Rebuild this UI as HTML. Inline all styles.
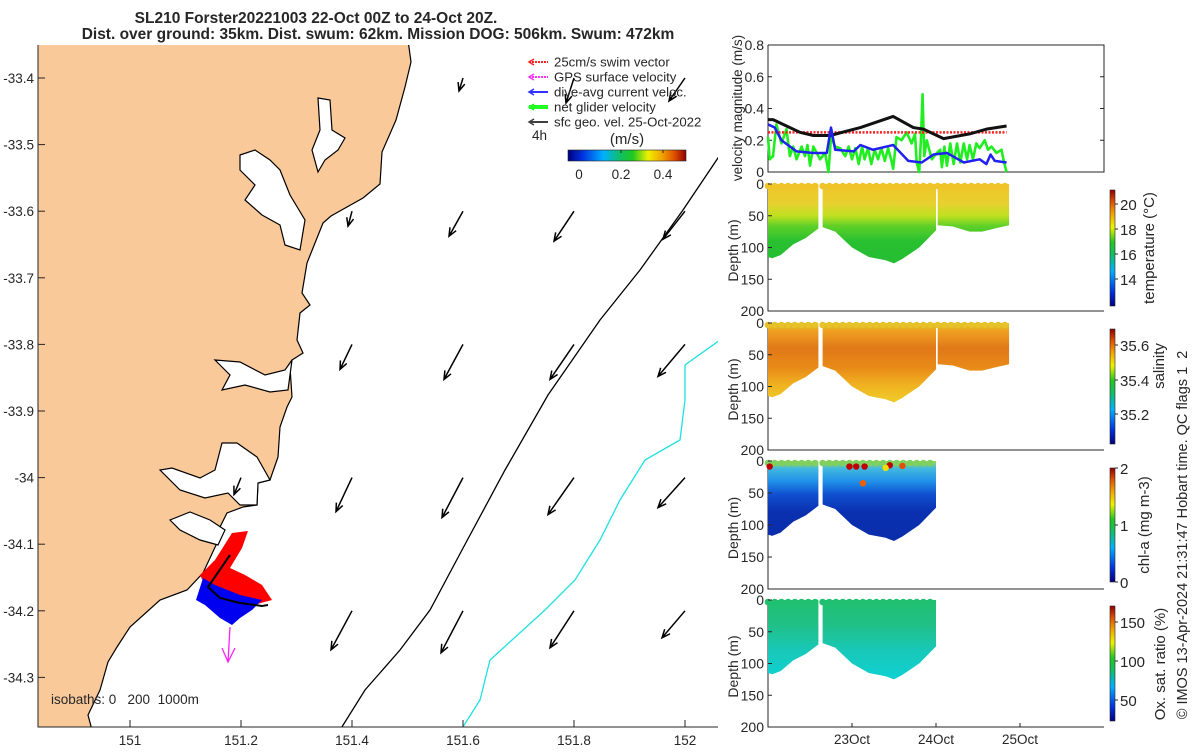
<!DOCTYPE html>
<html><head><meta charset="utf-8"><style>
html,body{margin:0;padding:0;background:#fff;}
svg text{font-family:"Liberation Sans","DejaVu Sans",sans-serif;fill:#262626;}
.pre{white-space:pre;}
</style></head><body>
<svg id="fig" width="1200" height="750" viewBox="0 0 1200 750" xmlns="http://www.w3.org/2000/svg">
<defs>
<linearGradient id="jet" x1="0" y1="1" x2="0" y2="0">
<stop offset="0" stop-color="#00007f"/><stop offset="0.12" stop-color="#0030e0"/><stop offset="0.3" stop-color="#00b0ff"/><stop offset="0.45" stop-color="#10c060"/><stop offset="0.55" stop-color="#20c820"/><stop offset="0.68" stop-color="#f0f000"/><stop offset="0.8" stop-color="#f0a000"/><stop offset="0.9" stop-color="#e05000"/><stop offset="1" stop-color="#900000"/></linearGradient>
<linearGradient id="jeth" x1="0" y1="0" x2="1" y2="0">
<stop offset="0" stop-color="#00007f"/><stop offset="0.12" stop-color="#0030e0"/><stop offset="0.3" stop-color="#00b0ff"/><stop offset="0.45" stop-color="#10c060"/><stop offset="0.55" stop-color="#20c820"/><stop offset="0.68" stop-color="#f0f000"/><stop offset="0.8" stop-color="#f0a000"/><stop offset="0.9" stop-color="#e05000"/><stop offset="1" stop-color="#900000"/></linearGradient>
<linearGradient id="gTemp" gradientUnits="userSpaceOnUse" x1="0" y1="184" x2="0" y2="311">
<stop offset="0" stop-color="#f0c428"/><stop offset="0.15" stop-color="#e8d030"/><stop offset="0.25" stop-color="#c0e020"/><stop offset="0.33" stop-color="#60d028"/><stop offset="0.45" stop-color="#28c030"/><stop offset="1" stop-color="#20b838"/></linearGradient>
<linearGradient id="gSal" gradientUnits="userSpaceOnUse" x1="0" y1="323" x2="0" y2="450">
<stop offset="0" stop-color="#d0d030"/><stop offset="0.06" stop-color="#f0a020"/><stop offset="0.2" stop-color="#e07818"/><stop offset="0.35" stop-color="#e88a18"/><stop offset="0.48" stop-color="#f0b020"/><stop offset="0.6" stop-color="#f0c828"/><stop offset="1" stop-color="#e8e020"/></linearGradient>
<linearGradient id="gChl" gradientUnits="userSpaceOnUse" x1="0" y1="461" x2="0" y2="589">
<stop offset="0" stop-color="#a0d840"/><stop offset="0.06" stop-color="#40b8e0"/><stop offset="0.16" stop-color="#2090e8"/><stop offset="0.26" stop-color="#1050d0"/><stop offset="0.4" stop-color="#0a30b0"/><stop offset="1" stop-color="#0a2aa0"/></linearGradient>
<linearGradient id="gOxy" gradientUnits="userSpaceOnUse" x1="0" y1="600" x2="0" y2="727">
<stop offset="0" stop-color="#20c070"/><stop offset="0.2" stop-color="#20c088"/><stop offset="0.4" stop-color="#18c8b8"/><stop offset="0.6" stop-color="#10d0d0"/><stop offset="1" stop-color="#10d0d8"/></linearGradient>
</defs>
<g id="map"></g>
<g id="right"></g>
</svg>
<script>
// ---- data ----
const mapLonTicks=[151,151.2,151.4,151.6,151.8,152];
const mapLatTicks=[-33.4,-33.5,-33.6,-33.7,-33.8,-33.9,-34,-34.1,-34.2,-34.3];
const arrowLon=[151.6,151.8,152, 151.4,151.6,151.8,152, 151.4,151.6,151.8,152, 151.4,151.6,151.8,152, 151.4,151.6,151.8,152, 151.2];
const arrowLat=[-33.4,-33.4,-33.4, -33.6,-33.6,-33.6,-33.6, -33.8,-33.8,-33.8,-33.8, -34,-34,-34,-34, -34.2,-34.2,-34.2,-34.2, -34.0];
const arrowU=[-0.04,-0.08,-0.16, -0.04,-0.14,-0.2,-0.22, -0.12,-0.19,-0.24,-0.27, -0.16,-0.21,-0.26,-0.27, -0.21,-0.22,-0.24,-0.23, -0.07];
const arrowV=[-0.13,-0.25,-0.23, -0.15,-0.25,-0.3,-0.28, -0.25,-0.35,-0.35,-0.32, -0.34,-0.4,-0.37,-0.3, -0.39,-0.42,-0.37,-0.27, -0.17];

const velTicks=[0,0.2,0.4,0.6,0.8];
const depthTicks=[0,50,100,150,200];
const dayTicks=[1,2,3];
const dayLabels=["23Oct","24Oct","25Oct"];
const blackT=[0,0.06,0.22,0.38,0.54,0.74,1.1,1.49,1.73,1.85,2.09,2.4,2.6,2.84];
const blackV=[0.33,0.33,0.29,0.25,0.23,0.23,0.28,0.35,0.28,0.27,0.21,0.24,0.27,0.29];
const redT=[0,2.84];
const redV=[0.25,0.25];
const blueT=[0,0.08,0.16,0.34,0.54,0.70,0.75,0.80,1.02,1.10,1.25,1.49,1.67,1.83,1.97,2.13,2.33,2.52,2.60,2.65,2.70,2.84];
const blueV=[0.30,0.28,0.2,0.13,0.12,0.12,0.28,0.14,0.13,0.17,0.14,0.17,0.07,0.06,0.11,0.12,0.06,0.08,0.05,0.11,0.07,0.06];
const greenT=[0,0.02,0.06,0.10,0.16,0.22,0.26,0.30,0.34,0.40,0.44,0.47,0.50,0.54,0.58,0.62,0.68,0.72,0.75,0.80,0.86,0.92,0.96,1.00,1.04,1.08,1.12,1.15,1.19,1.23,1.27,1.31,1.35,1.39,1.43,1.47,1.49,1.53,1.59,1.65,1.71,1.75,1.77,1.80,1.82,1.84,1.86,1.89,1.95,2.01,2.05,2.07,2.10,2.13,2.17,2.21,2.25,2.29,2.33,2.37,2.40,2.44,2.48,2.52,2.58,2.62,2.66,2.72,2.78,2.81,2.84];
const greenV=[0.22,0.08,0.1,0.3,0.18,0.27,0.1,0.16,0.08,0.16,0.1,0.17,0.04,0.16,0.12,0.08,0.12,0.0,0.22,0.16,0.15,0.1,0.16,0.08,0.15,0.05,0.16,0.08,0.15,0.05,0.14,0.08,0.15,0.07,0.15,0.07,0.02,0.22,0.2,0.25,0.18,0.24,0.06,0.0,0.2,0.49,0.1,0.2,0.08,0.12,0.14,0.03,0.16,0.04,0.18,0.05,0.18,0.06,0.18,0.08,0.17,0.08,0.18,0.15,0.2,0.14,0.16,0.12,0.14,0.06,0.0];
// section bottom depths (m) per segment
const seg1T=[0,0.05,0.15,0.3,0.45,0.6];
const seg1D=[115,117,112,95,85,70];
const seg2T=[0.65,0.8,1.0,1.2,1.4,1.5,1.6,1.8,2.0];
const seg2D=[68,75,100,115,120,125,118,100,73];
const seg3T=[2.02,2.2,2.4,2.55,2.7,2.87];
const seg3D=[65,67,75,75,70,65];
// ---- helpers ----
const NS="http://www.w3.org/2000/svg";
function mk(tag,attrs,parent){const e=document.createElementNS(NS,tag);for(const k in attrs)e.setAttribute(k,attrs[k]);parent.appendChild(e);return e;}
const map=document.getElementById('map'), right=document.getElementById('right'), fig=document.getElementById('fig');
const mx=lon=>130+(lon-151)*555, my=lat=>78+(-33.4-lat)*666;

// title
let t=mk('text',{x:316,y:23,'font-size':15.5,'font-weight':'bold','text-anchor':'middle'},fig);t.textContent='SL210 Forster20221003 22-Oct 00Z to 24-Oct 20Z.';

t=mk('text',{x:378,y:39,'font-size':15.5,'font-weight':'bold','text-anchor':'middle'},fig);t.textContent='Dist. over ground: 35km. Dist. swum: 62km. Mission DOG: 506km. Swum: 472km';


// ---- map ----
let cp=mk('clipPath',{id:'mapclip'},map);mk('rect',{x:38,y:45,width:680,height:682},cp);
const mg=mk('g',{'clip-path':'url(#mapclip)'},map);
let land=mk('polygon',{points:'30,40 408,40 411,62 405,87 396,120 382,152 380,184 363,198 331,216 323,223 307,263 302,293 310,305 300,313 297,340 303,353 292,360 290,367 292,397 287,407 280,427 278,457 270,480 258,483 257,505 243,507 227,513 220,527 217,543 203,573 187,590 160,600 130,627 117,647 108,662 100,690 88,715 92,730 30,730',fill:'#f9c99a',stroke:'#000','stroke-width':1.2},mg);

const inlets=['222,443 237,443 257,457 270,480 258,483 257,505 240,505 228,493 205,498 180,490 160,470 172,468 200,478 215,470',
'240,155 255,150 270,160 280,170 290,195 305,220 300,250 285,245 280,225 262,215 245,200 255,185 240,170',
'215,360 240,362 265,375 285,370 292,360 288,390 270,392 245,385 222,390 230,375',
'170,520 190,512 210,520 225,530 218,545 200,540 180,530',
'318,98 330,100 332,130 345,138 338,150 325,160 318,172 312,150 320,130'];
inlets.forEach((p,i)=>{const e=mk('polygon',{points:p,fill:'#fff',stroke:'#000','stroke-width':1.2},mg);});
// isobaths
let iso=mk('polyline',{points:'720,155 683,210 640,270 600,320 548,395 505,470 462,550 430,610 400,650 365,690 340,730',fill:'none',stroke:'#000','stroke-width':1.3},mg);

iso=mk('polyline',{points:'720,340 685,365 685,400 680,440 645,460 620,500 600,540 575,580 545,610 490,660 480,700 461,730',fill:'none',stroke:'#20e0e0','stroke-width':1.3},mg);

// glider track
let g=mk('polygon',{points:'232,533 248,531 242,548 236,558 230,568 245,575 262,585 272,600 250,606 225,598 212,590 205,585 200,575 215,560',fill:'#f00'},mg);

g=mk('polygon',{points:'203,578 215,585 240,595 262,600 252,610 240,618 232,625 220,618 205,605 196,600',fill:'#0000f0'},mg);

g=mk('polyline',{points:'230,555 208,587 220,598 240,603 262,606 268,605',fill:'none',stroke:'#000','stroke-width':2},mg);

g=mk('path',{d:'M230,627 L228,662 M222,648 L228,662 L235,648',fill:'none',stroke:'#ff20ff','stroke-width':1.3},mg);

// geostrophic arrows
for(let i=0;i<arrowLon.length;i++){
  const x0=mx(arrowLon[i]),y0=my(arrowLat[i]);const x1=x0+arrowU[i]*100,y1=y0-arrowV[i]*100;
  const a=Math.atan2(y1-y0,x1-x0),h=9;
  const p=`M${x0},${y0} L${x1},${y1} M${x1-h*Math.cos(a-0.4)},${y1-h*Math.sin(a-0.4)} L${x1},${y1} L${x1-h*Math.cos(a+0.4)},${y1-h*Math.sin(a+0.4)}`;
  const e=mk('path',{d:p,fill:'none',stroke:'#000','stroke-width':1.5},mg);
  
  
}
let ax=mk('path',{d:'M38,45 L38,727 L718,727',fill:'none',stroke:'#262626','stroke-width':1},map);

mapLonTicks.forEach(v=>{const x=mx(v);mk('line',{x1:x,x2:x,y1:727,y2:720,stroke:'#262626'},map);
  const e=mk('text',{x:x,y:745,'font-size':13.5,'text-anchor':'middle'},map);e.textContent=String(v);
  });
mapLatTicks.forEach(v=>{const y=my(v);mk('line',{x1:38,x2:45,y1:y,y2:y,stroke:'#262626'},map);
  const e=mk('text',{x:34,y:y+5,'font-size':13.5,'text-anchor':'end'},map);e.textContent=String(v);
  });
t=mk('text',{x:51,y:704,'font-size':13.5,'class':'pre'},map);t.textContent='isobaths: 0   200  1000m';

// legend
const legItems=[['#ff2020','25cm/s swim vector',2],['#ff30ff','GPS surface velocity',2],['#3030ff','dive-avg current veloc.',2],['#20ff20','net glider velocity',4],['#404040','sfc geo. vel. 25-Oct-2022',2]];
legItems.forEach((it,i)=>{const y=62+15*i;const gg=mk('g',{},map);
  
  mk('line',{x1:529,x2:548,y1:y,y2:y,stroke:it[0],'stroke-width':it[2],'stroke-dasharray':i<2?'2 1':'none'},gg);
  mk('path',{d:`M534,${y-3} L529,${y} L534,${y+3}`,fill:'none',stroke:it[0],'stroke-width':1.5},gg);
  const e=mk('text',{x:554,y:y+4.5,'font-size':13.2},gg);e.textContent=it[1];});
t=mk('text',{x:532,y:140,'font-size':13.5},map);t.textContent='4h';
t=mk('text',{x:627,y:144,'font-size':15,'text-anchor':'middle'},map);t.textContent='(m/s)';
let cb=mk('rect',{x:568,y:150,width:118,height:11,fill:'url(#jeth)',stroke:'#262626','stroke-width':0.6},map);

[[0,579],[0.2,621],[0.4,663]].forEach(p=>{mk('line',{x1:p[1],x2:p[1],y1:150,y2:153,stroke:'#262626'},map);
  const e=mk('text',{x:p[1],y:179,'font-size':13.5,'text-anchor':'middle'},map);e.textContent=String(p[0]);
  });

// ---- right panels ----
const X0=768,X1=1104,tx=d=>X0+d*84;
function frame(top,bot,ticks,lab,name){
  const gg=mk('g',{},right);
  mk('path',{d:`M${X0},${top} L${X0},${bot} L${X1},${bot}`+(name==='velocity-panel'?` L${X1},${top} L${X0},${top}`:''),fill:'none',stroke:'#262626'},gg);
  return gg;}
// velocity
const vy=v=>172-v*(127/0.8);
let vg=frame(45,172,velTicks,'', 'velocity-panel');
velTicks.forEach(v=>{const y=vy(v);mk('line',{x1:X0,x2:X0+4,y1:y,y2:y,stroke:'#262626'},vg);mk('line',{x1:X1,x2:X1-4,y1:y,y2:y,stroke:'#262626'},vg);
  const e=mk('text',{x:764,y:y+5,'font-size':14,'text-anchor':'end'},vg);e.textContent=String(v);
  });
t=mk('text',{x:0,y:0,'font-size':13.5,'text-anchor':'middle',transform:'translate(742,108) rotate(-90)'},vg);t.textContent='velocity magnitude (m/s)';

function series(T,V,color,w,name,dash){const pts=T.map((d,i)=>tx(d)+','+vy(V[i])).join(' ');
  const e=mk('polyline',{points:pts,fill:'none',stroke:color,'stroke-width':w,'stroke-linejoin':'round','stroke-dasharray':dash||'none'},vg);
  }
series(greenT,greenV,'#20ee20',2.6,'net-glider-velocity-line');
series(redT,redV,'#ff2020',2.5,'swim-speed-line','2 1.5');
series(blackT,blackV,'#111',3,'geostrophic-speed-line');
series(blueT,blueV,'#2020f0',2.5,'dive-avg-current-line');
// sections
const panels=[{top:184,bot:311,fill:'url(#gTemp)',top0:'#f0c428',segs:3,name:'temperature-section',cb:{y0:190,y1:306,ticks:[[20,204],[18,229],[16,254],[14,279]],title:'temperature (°C)',tx:1154,ty:248}},
{top:323,bot:450,fill:'url(#gSal)',top0:'#e8c028',segs:3,name:'salinity-section',cb:{y0:329,y1:444,ticks:[['35.6',345],['35.4',380],['35.2',414]],title:'salinity',tx:1164,ty:366}},
{top:461,bot:589,fill:'url(#gChl)',top0:'#80d060',segs:2,name:'chlorophyll-section',cb:{y0:468,y1:582,ticks:[[2,468],[1,525],[0,582]],title:'chl-a (mg m-3)',tx:1149,ty:525}},
{top:600,bot:727,fill:'url(#gOxy)',top0:'#20c070',segs:2,name:'oxygen-section',cb:{y0:606,y1:721,ticks:[[150,622],[100,661],[50,700]],title:'Ox. sat. ratio (%)',tx:1165,ty:664}}];
const segT=[seg1T,seg2T,seg3T],segD=[seg1D,seg2D,seg3D];
panels.forEach(P=>{
  const gg=frame(P.top,P.bot,depthTicks,'',P.name);
  const dy=d=>P.top+d*(P.bot-P.top)/200;
  for(let s=0;s<P.segs;s++){const T=segT[s],D=segD[s];
    let pts=`${tx(T[0])},${dy(0)} `+T.map((d,i)=>tx(d)+','+dy(D[i])).join(' ')+` ${tx(T[T.length-1])},${dy(0)}`;
    const e=mk('polygon',{points:pts,fill:P.fill},gg);
    
    for(let d=T[0];d<=T[T.length-1]+0.001;d+=0.08){mk('circle',{cx:tx(d),cy:dy(0)+2,r:3.3,fill:P.top0},gg);}
  }
  depthTicks.forEach(v=>{const y=dy(v);mk('line',{x1:X0,x2:X0+4,y1:y,y2:y,stroke:'#262626'},gg);
    const e=mk('text',{x:764,y:y+5,'font-size':14,'text-anchor':'end'},gg);e.textContent=String(v);
    });
  const e=mk('text',{x:0,y:0,'font-size':14,'text-anchor':'middle',transform:`translate(738,${(P.top+P.bot)/2+3}) rotate(-90)`},gg);e.textContent='Depth (m)';
  
  const c=P.cb;const r=mk('rect',{x:1110,y:c.y0,width:5,height:c.y1-c.y0,fill:'url(#jet)',stroke:'#262626','stroke-width':0.6},gg);
  
  c.ticks.forEach(k=>{mk('line',{x1:1115,x2:1118,y1:k[1],y2:k[1],stroke:'#262626'},gg);
    const q=mk('text',{x:1120,y:k[1]+6,'font-size':15},gg);q.textContent=String(k[0]);
    });
  const q=mk('text',{x:0,y:0,'font-size':15,'text-anchor':'middle',transform:`translate(${c.tx},${c.ty}) rotate(-90)`},gg);q.textContent=c.title;
  
});
// chl hotspots
[[0.97,4,'#c00000'],[1.05,4,'#c00000'],[1.15,4,'#c00000'],[1.45,2,'#c00000'],[1.6,3,'#e05000'],[1.13,30,'#f06000'],[1.4,6,'#f0e000'],[0.02,4,'#c00000']].forEach(p=>{
  const e=mk('circle',{cx:tx(p[0]),cy:461+p[1]*128/200+3,r:3.2,fill:p[2]},right);
  });
dayTicks.forEach((d,i)=>{const x=tx(d);mk('line',{x1:x,x2:x,y1:727,y2:723,stroke:'#262626'},right);
  const e=mk('text',{x:x,y:744,'font-size':13.5,'text-anchor':'middle'},right);e.textContent=dayLabels[i];
  });
t=mk('text',{x:0,y:0,'font-size':14.5,'text-anchor':'middle','class':'pre',transform:'translate(1187,535) rotate(-90)'},right);
t.textContent='© IMOS 13-Apr-2024 21:31:47 Hobart time. QC flags 1  2';

</script>
</body></html>
